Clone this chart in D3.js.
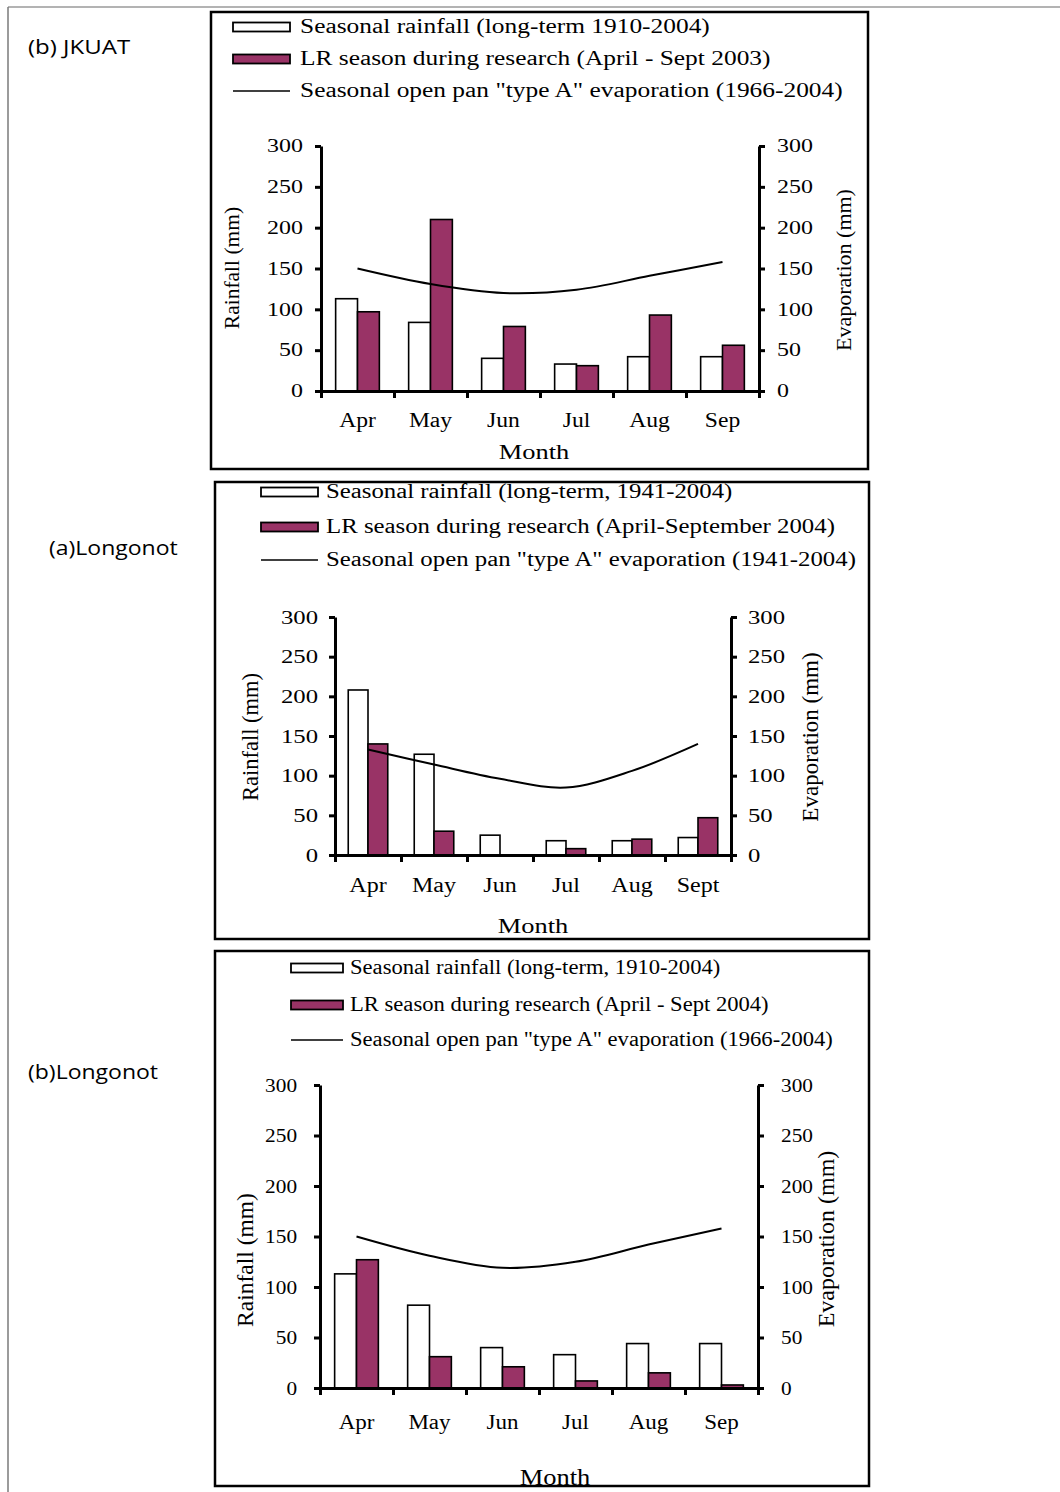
<!DOCTYPE html>
<html>
<head>
<meta charset="utf-8">
<script src="https://cdn.jsdelivr.net/npm/d3@7"></script>
<style>
  body { margin: 0; background: #fff; }
  svg { display: block; }
</style>
</head>
<body>
<script>
// ---------------- DATA ----------------
const monthsA = ["Apr", "May", "Jun", "Jul", "Aug", "Sep"];
const monthsB = ["Apr", "May", "Jun", "Jul", "Aug", "Sept"];
const yTicks = [0, 50, 100, 150, 200, 250, 300];

// (b) JKUAT
const jkuatLongTerm = [113, 84, 40, 33, 42, 42];
const jkuatResearch = [97, 210, 79, 31, 93, 56];
const jkuatEvap = [150, 131, 120, 124, 141, 158];
const jkuatLegend = ["Seasonal rainfall (long-term 1910-2004)",
                     "LR season during research (April - Sept 2003)",
                     "Seasonal open pan \"type A\" evaporation (1966-2004)"];

// (a) Longonot
const longALongTerm = [208, 127, 25, 18, 18, 22];
const longAResearch = [140, 30, 0, 8, 20, 47];
const longAEvap = [133, 114, 96, 85, 106, 140];
const longALegend = ["Seasonal rainfall (long-term, 1941-2004)",
                     "LR season during research (April-September 2004)",
                     "Seasonal open pan \"type A\" evaporation (1941-2004)"];

// (b) Longonot
const longBLongTerm = [113, 82, 40, 33, 44, 44];
const longBResearch = [127, 31, 21, 7, 15, 3];
const longBEvap = [150, 131, 119, 125, 142, 158];
const longBLegend = ["Seasonal rainfall (long-term, 1910-2004)",
                     "LR season during research (April - Sept 2004)",
                     "Seasonal open pan \"type A\" evaporation (1966-2004)"];

const panelLabels = ["(b) JKUAT", "(a)Longonot", "(b)Longonot"];
const xTitle = "Month";
const yTitleL = "Rainfall (mm)";
const yTitleR = "Evaporation (mm)";

// ---------------- STYLE / LAYOUT ----------------
const PURPLE = "#993366";
const SERIF = "'Liberation Serif', 'Times New Roman', serif";
const SANS = "'Open Sans', 'Noto Sans', sans-serif";

const panels = [
  { months: monthsA, lt: jkuatLongTerm, lr: jkuatResearch, ev: jkuatEvap, legend: jkuatLegend,
    box: [211, 12, 868, 469], swX: 233, swW: 57, txX: 300, rows: [27, 59, 91], legFont: 20, legK: 1.27,
    xL: 321, xR: 759, yTop: 146, yBot: 391, tickFont: 18, tickK: 1.33, padL: 12, padR: 12,
    monthOff: 36, monthFont: 20, monthK: 1.18,
    title: [534, 459], titleFont: 22, titleK: 1.2,
    rotL: [231, 268], rotR: [843, 270], rotFont: [21.5, 22],
    label: panelLabels[0], labelPos: [28, 54], labelK: 1.2 },
  { months: monthsB, lt: longALongTerm, lr: longAResearch, ev: longAEvap, legend: longALegend,
    box: [215, 482, 869, 939], swX: 261, swW: 57, txX: 326, rows: [492, 527, 560], legFont: 20, legK: 1.24,
    xL: 335, xR: 731, yTop: 617, yBot: 855, tickFont: 19, tickK: 1.3, padL: 11, padR: 11,
    monthOff: 37, monthFont: 20, monthK: 1.2,
    title: [533, 933], titleFont: 22, titleK: 1.2,
    rotL: [250, 737], rotR: [810, 737], rotFont: [22.5, 23],
    label: panelLabels[1], labelPos: [49, 555], labelK: 1.15 },
  { months: monthsA, lt: longBLongTerm, lr: longBResearch, ev: longBEvap, legend: longBLegend,
    box: [215, 951, 869, 1486], swX: 291, swW: 52, txX: 350, rows: [968, 1005, 1040], legFont: 20, legK: 1.13,
    xL: 320, xR: 758, yTop: 1085, yBot: 1388, tickFont: 19, tickK: 1.12, padL: 17, padR: 17,
    monthOff: 41, monthFont: 20, monthK: 1.15,
    title: [555, 1485], titleFont: 23, titleK: 1.15,
    rotL: [245, 1260], rotR: [826, 1239], rotFont: [23.5, 24],
    label: panelLabels[2], labelPos: [28, 1079], labelK: 1.15 }
];

// ---------------- HELPERS ----------------
function stretch(sel, k) {
  sel.each(function () {
    const l = this.getComputedTextLength();
    this.setAttribute("textLength", (l * k).toFixed(2));
    this.setAttribute("lengthAdjust", "spacingAndGlyphs");
  });
}

const svg = d3.select("body").append("svg")
  .attr("width", 1060).attr("height", 1492);

svg.append("rect").attr("width", 1060).attr("height", 1492).attr("fill", "#fff");

// page frame (gray)
svg.append("line").attr("x1", 8).attr("y1", 7).attr("x2", 1060).attr("y2", 7)
  .attr("stroke", "#9a9a9a").attr("stroke-width", 1.5);
svg.append("line").attr("x1", 8).attr("y1", 7).attr("x2", 8).attr("y2", 1492)
  .attr("stroke", "#7a7a7a").attr("stroke-width", 1.5);

function styleAxis(g, font, k) {
  g.attr("font-family", SERIF).attr("font-size", font);
  g.selectAll(".domain").attr("stroke", "#000").attr("stroke-width", 3);
  g.selectAll(".tick line").attr("stroke", "#000").attr("stroke-width", 3);
  g.selectAll("text").attr("fill", "#000");
  if (k) stretch(g.selectAll("text"), k);
}

function drawPanel(p) {
  const g = svg.append("g");
  const n = p.months.length;

  const x = d3.scaleBand().domain(p.months).range([p.xL, p.xR]).paddingInner(0).paddingOuter(0);
  const xi = d3.scaleBand().domain(["lt", "lr"]).range([0, x.bandwidth()])
    .paddingInner(0).paddingOuter(0.67);
  const y = d3.scaleLinear().domain([0, 300]).range([p.yBot, p.yTop]);
  const yR = d3.scaleLinear().domain([0, 300]).range([p.yBot, p.yTop]);
  const xb = d3.scaleLinear().domain([0, n]).range([p.xL, p.xR]);

  // bars - long term (white)
  g.append("g").selectAll("rect")
    .data(p.lt.map((v, i) => ({ v, m: p.months[i] })).filter(d => d.v > 0))
    .join("rect")
    .attr("x", d => x(d.m) + xi("lt"))
    .attr("y", d => y(d.v))
    .attr("width", xi.bandwidth())
    .attr("height", d => y(0) - y(d.v))
    .attr("fill", "#fff").attr("stroke", "#000").attr("stroke-width", 1.6);

  // bars - research season (purple)
  g.append("g").selectAll("rect")
    .data(p.lr.map((v, i) => ({ v, m: p.months[i] })).filter(d => d.v > 0))
    .join("rect")
    .attr("x", d => x(d.m) + xi("lr"))
    .attr("y", d => y(d.v))
    .attr("width", xi.bandwidth())
    .attr("height", d => y(0) - y(d.v))
    .attr("fill", PURPLE).attr("stroke", "#000").attr("stroke-width", 1.6);

  // evaporation line
  const line = d3.line()
    .x((d, i) => x(p.months[i]) + x.bandwidth() / 2)
    .y(d => yR(d))
    .curve(d3.curveCatmullRom.alpha(0.5));
  g.append("path").datum(p.ev).attr("d", line)
    .attr("fill", "none").attr("stroke", "#000").attr("stroke-width", 2);

  // bottom axis boundary ticks
  const gb = g.append("g").attr("transform", `translate(0,${p.yBot})`)
    .call(d3.axisBottom(xb).tickValues(d3.range(0, n + 1)).tickFormat("").tickSize(7).tickSizeOuter(0));
  styleAxis(gb, p.tickFont);

  // month labels
  const gm = g.append("g").attr("transform", `translate(0,${p.yBot})`)
    .call(d3.axisBottom(x).tickSize(0).tickPadding(p.monthOff - 14));
  gm.select(".domain").remove();
  gm.attr("font-family", SERIF).attr("font-size", p.monthFont);
  gm.selectAll("text").attr("fill", "#000");
  stretch(gm.selectAll("text"), p.monthK);

  // left axis
  const gl = g.append("g").attr("transform", `translate(${p.xL},0)`)
    .call(d3.axisLeft(y).tickValues(yTicks).tickSize(6).tickSizeOuter(0).tickPadding(p.padL));
  styleAxis(gl, p.tickFont, p.tickK);

  // right axis
  const gr = g.append("g").attr("transform", `translate(${p.xR},0)`)
    .call(d3.axisRight(yR).tickValues(yTicks).tickSize(6).tickSizeOuter(0).tickPadding(p.padR));
  styleAxis(gr, p.tickFont, p.tickK);

  // axis titles
  const tx = g.append("text").attr("x", p.title[0]).attr("y", p.title[1])
    .attr("text-anchor", "middle").attr("font-family", SERIF).attr("font-size", p.titleFont)
    .attr("fill", "#000").text(xTitle);
  stretch(tx, p.titleK);

  g.append("text")
    .attr("transform", `translate(${p.rotL[0]},${p.rotL[1]}) rotate(-90)`)
    .attr("text-anchor", "middle").attr("dy", "0.35em")
    .attr("font-family", SERIF).attr("font-size", p.rotFont[0]).attr("fill", "#000")
    .text(yTitleL);
  g.append("text")
    .attr("transform", `translate(${p.rotR[0]},${p.rotR[1]}) rotate(-90)`)
    .attr("text-anchor", "middle").attr("dy", "0.35em")
    .attr("font-family", SERIF).attr("font-size", p.rotFont[1]).attr("fill", "#000")
    .text(yTitleR);

  // legend
  const lg = g.append("g");
  lg.append("rect").attr("x", p.swX).attr("y", p.rows[0] - 4.5).attr("width", p.swW).attr("height", 9)
    .attr("fill", "#fff").attr("stroke", "#000").attr("stroke-width", 1.8);
  lg.append("rect").attr("x", p.swX).attr("y", p.rows[1] - 4.5).attr("width", p.swW).attr("height", 9)
    .attr("fill", PURPLE).attr("stroke", "#000").attr("stroke-width", 1.8);
  lg.append("line").attr("x1", p.swX).attr("x2", p.swX + p.swW)
    .attr("y1", p.rows[2]).attr("y2", p.rows[2])
    .attr("stroke", "#000").attr("stroke-width", 1.6);
  const lt = lg.selectAll("text.leg").data(p.legend).join("text")
    .attr("class", "leg")
    .attr("x", p.txX).attr("y", (d, i) => p.rows[i]).attr("dy", "0.32em")
    .attr("font-family", SERIF).attr("font-size", p.legFont).attr("fill", "#000")
    .text(d => d);
  stretch(lt, p.legK);

  // frame
  g.append("rect").attr("x", p.box[0]).attr("y", p.box[1])
    .attr("width", p.box[2] - p.box[0]).attr("height", p.box[3] - p.box[1])
    .attr("fill", "none").attr("stroke", "#000").attr("stroke-width", 2.5);

  // side label
  const sl = svg.append("text").attr("x", p.labelPos[0]).attr("y", p.labelPos[1])
    .attr("font-family", SANS).attr("font-size", 20).attr("fill", "#000")
    .text(p.label);
  stretch(sl, p.labelK);
}

panels.forEach(drawPanel);
</script>
</body>
</html>
